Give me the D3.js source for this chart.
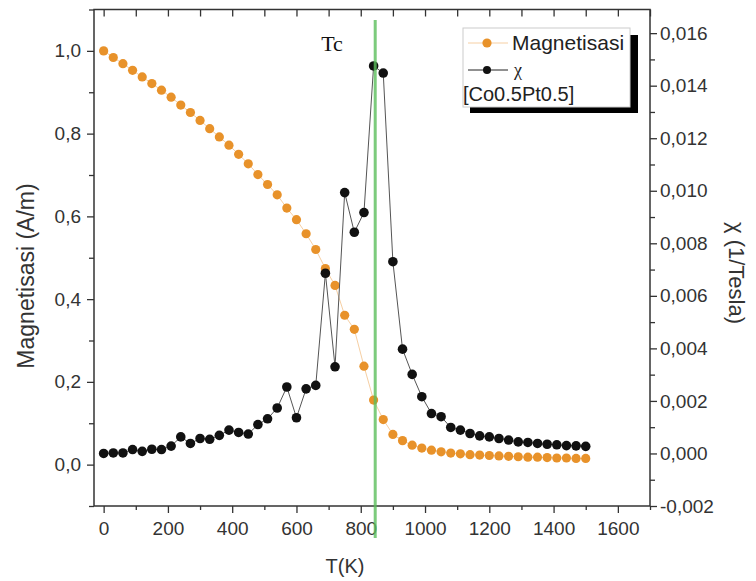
<!DOCTYPE html>
<html>
<head>
<meta charset="utf-8">
<script src="https://cdn.jsdelivr.net/npm/d3@7"></script>
<style>
  body { margin: 0; background: #fff; }
  svg text { font-family: "Liberation Sans", Arial, sans-serif; fill: #333; }
</style>
</head>
<body>
<svg id="chart" width="756" height="581"></svg>
<script>
var temps = [0, 30, 60, 90, 120, 150, 180, 210, 240, 270, 300, 330, 360, 390, 420, 450, 480,
  510, 540, 570, 600, 630, 660, 690, 720, 750, 780, 810, 840, 870, 900, 930, 960, 990,
  1020, 1050, 1080, 1110, 1140, 1170, 1200, 1230, 1260, 1290, 1320, 1350, 1380, 1410,
  1440, 1470, 1500];

var magnetisasi = [1.000, 0.984, 0.969, 0.953, 0.937, 0.921, 0.905, 0.888, 0.869, 0.851,
  0.832, 0.812, 0.792, 0.772, 0.750, 0.727, 0.701, 0.677, 0.652, 0.620, 0.592, 0.558,
  0.520, 0.474, 0.433, 0.361, 0.327, 0.238, 0.156, 0.109, 0.073, 0.058, 0.047, 0.040,
  0.035, 0.031, 0.028, 0.026, 0.024, 0.023, 0.022, 0.021, 0.020, 0.019, 0.018, 0.018,
  0.017, 0.016, 0.016, 0.015, 0.015];

var chi = [0.00000, 0.00002, 0.00002, 0.00015, 0.00008, 0.00016, 0.00015, 0.00028, 0.00063,
  0.00038, 0.00057, 0.00054, 0.00069, 0.00089, 0.00080, 0.00074, 0.00110, 0.00132,
  0.00173, 0.00253, 0.00136, 0.00246, 0.00259, 0.00686, 0.00330, 0.00993, 0.00842,
  0.00917, 0.01475, 0.01448, 0.00730, 0.00397, 0.00301, 0.00216, 0.00152, 0.00140,
  0.00099, 0.00089, 0.00076, 0.00067, 0.00063, 0.00057, 0.00051, 0.00044, 0.00042,
  0.00038, 0.00035, 0.00033, 0.00030, 0.00029, 0.00027];

var tc = 845;

var xTicks = [0, 200, 400, 600, 800, 1000, 1200, 1400, 1600];
var xMinor = [100, 300, 500, 700, 900, 1100, 1300, 1500, 1700];
var mTicks = [0, 0.2, 0.4, 0.6, 0.8, 1.0];
var mMinor = [-0.1, 0.1, 0.3, 0.5, 0.7, 0.9, 1.1];
var chiTicks = [-0.002, 0, 0.002, 0.004, 0.006, 0.008, 0.010, 0.012, 0.014, 0.016];
var chiMinor = [-0.001, 0.001, 0.003, 0.005, 0.007, 0.009, 0.011, 0.013, 0.015];

var svg = d3.select('svg#chart');
var plotL = 94, plotR = 650, plotT = 9.5, plotB = 506;

var x = d3.scaleLinear().domain([-30, 1700]).range([plotL, plotR]);
var yM = d3.scaleLinear().domain([-0.1, 1.1]).range([plotB, plotT]);
var yC = d3.scaleLinear().domain([-0.002, 0.0169]).range([plotB, plotT]);

var locale = d3.formatLocale({ decimal: ',', thousands: '.', grouping: [3], currency: ['', ''], minus: '-' });

var points = temps.map(function (t, i) { return { t: t, m: magnetisasi[i], c: chi[i] }; });

function styleAxis(g, size) {
  g.select('.domain').remove();
  g.selectAll('.tick line').attr('stroke', '#333').attr('stroke-width', 1.3);
  g.selectAll('.tick text').attr('fill', '#333').style('font-size', size + 'px');
}

// axes
svg.append('g')
  .attr('transform', 'translate(0,' + plotB + ')')
  .call(d3.axisBottom(x).tickValues(xTicks).tickSize(7).tickPadding(9).tickFormat(d3.format('d')))
  .call(styleAxis, 19);
svg.append('g')
  .attr('transform', 'translate(0,' + plotB + ')')
  .call(d3.axisBottom(x).tickValues(xMinor).tickSize(4).tickFormat(''))
  .call(styleAxis, 19);
svg.append('g')
  .attr('transform', 'translate(0,' + plotT + ')')
  .call(d3.axisTop(x).tickValues(xTicks.concat(xMinor)).tickSize(-7).tickFormat(''))
  .call(styleAxis, 19);

svg.append('g')
  .attr('transform', 'translate(' + plotL + ',0)')
  .call(d3.axisLeft(yM).tickValues(mTicks).tickSize(7).tickPadding(6).tickFormat(locale.format('.1f')))
  .call(styleAxis, 19);
svg.append('g')
  .attr('transform', 'translate(' + plotL + ',0)')
  .call(d3.axisLeft(yM).tickValues(mMinor).tickSize(5).tickFormat(''))
  .call(styleAxis, 19);

svg.append('g')
  .attr('transform', 'translate(' + plotR + ',0)')
  .call(d3.axisRight(yC).tickValues(chiTicks).tickSize(7).tickPadding(3).tickFormat(locale.format('.3f')))
  .call(styleAxis, 19);
svg.append('g')
  .attr('transform', 'translate(' + plotR + ',0)')
  .call(d3.axisRight(yC).tickValues(chiMinor).tickSize(5).tickFormat(''))
  .call(styleAxis, 19);

svg.append('rect')
  .attr('x', plotL).attr('y', plotT)
  .attr('width', plotR - plotL).attr('height', plotB - plotT)
  .attr('fill', 'none').attr('stroke', '#333').attr('stroke-width', 1.5);

// magnetisasi series
svg.append('path')
  .datum(points)
  .attr('fill', 'none').attr('stroke', '#f6cfa3').attr('stroke-width', 1)
  .attr('d', d3.line().x(function (d) { return x(d.t); }).y(function (d) { return yM(d.m); }));
svg.selectAll('.mdot').data(points).enter()
  .append('circle').classed('mdot', true)
    .attr('cx', function (d) { return x(d.t); })
    .attr('cy', function (d) { return yM(d.m); })
    .attr('r', 4.6)
    .attr('fill', '#e8922a');

// chi series
svg.append('path')
  .datum(points)
  .attr('fill', 'none').attr('stroke', '#555').attr('stroke-width', 1)
  .attr('d', d3.line().x(function (d) { return x(d.t); }).y(function (d) { return yC(d.c); }));
svg.selectAll('.cdot').data(points).enter()
  .append('circle').classed('cdot', true)
    .attr('cx', function (d) { return x(d.t); })
    .attr('cy', function (d) { return yC(d.c); })
    .attr('r', 4.8)
    .attr('fill', '#111');

// Tc marker
svg.append('line')
  .attr('x1', x(tc)).attr('x2', x(tc))
  .attr('y1', 20).attr('y2', 538)
  .attr('stroke', '#5cbf5c').attr('stroke-width', 3).attr('opacity', 0.8);
svg.append('text')
  .attr('x', 332).attr('y', 51)
  .attr('text-anchor', 'middle')
  .style('font-family', '"Liberation Serif", "Times New Roman", serif')
  .style('font-size', '22px').style('fill', '#111')
  .text('Tc');

// legend
var legend = svg.append('g');
legend.append('rect')
  .attr('x', 470).attr('y', 35).attr('width', 168).attr('height', 78)
  .attr('fill', '#000');
legend.append('rect')
  .attr('x', 463).attr('y', 28).attr('width', 167).attr('height', 79)
  .attr('fill', '#fff').attr('stroke', '#ccc').attr('stroke-width', 1);
legend.append('line')
  .attr('x1', 468).attr('x2', 508).attr('y1', 43).attr('y2', 43)
  .attr('stroke', '#f6cfa3').attr('stroke-width', 1);
legend.append('circle')
  .attr('cx', 487).attr('cy', 43).attr('r', 4.6).attr('fill', '#e8922a');
legend.append('text')
  .attr('x', 512).attr('y', 50)
  .style('font-size', '21px').style('fill', '#222')
  .text('Magnetisasi');
legend.append('line')
  .attr('x1', 468).attr('x2', 508).attr('y1', 70).attr('y2', 70)
  .attr('stroke', '#222').attr('stroke-width', 1);
legend.append('circle')
  .attr('cx', 487).attr('cy', 70).attr('r', 4).attr('fill', '#111');
legend.append('text')
  .attr('x', 514).attr('y', 76)
  .style('font-family', '"Liberation Serif", "Times New Roman", serif')
  .style('font-size', '18px').style('fill', '#222')
  .text('χ');
legend.append('text')
  .attr('x', 463).attr('y', 101)
  .style('font-size', '20px').style('fill', '#222')
  .text('[Co0.5Pt0.5]');

// axis titles
svg.append('text')
  .attr('x', 345).attr('y', 573)
  .attr('text-anchor', 'middle')
  .style('font-size', '20px')
  .text('T(K)');
svg.append('text')
  .attr('transform', 'translate(34,276) rotate(-90)')
  .attr('text-anchor', 'middle')
  .style('font-size', '23px')
  .text('Magnetisasi (A/m)');
svg.append('text')
  .attr('transform', 'translate(729,273) rotate(90)')
  .attr('text-anchor', 'middle')
  .style('font-size', '22px')
  .text('χ (1/Tesla)');
</script>
</body>
</html>
